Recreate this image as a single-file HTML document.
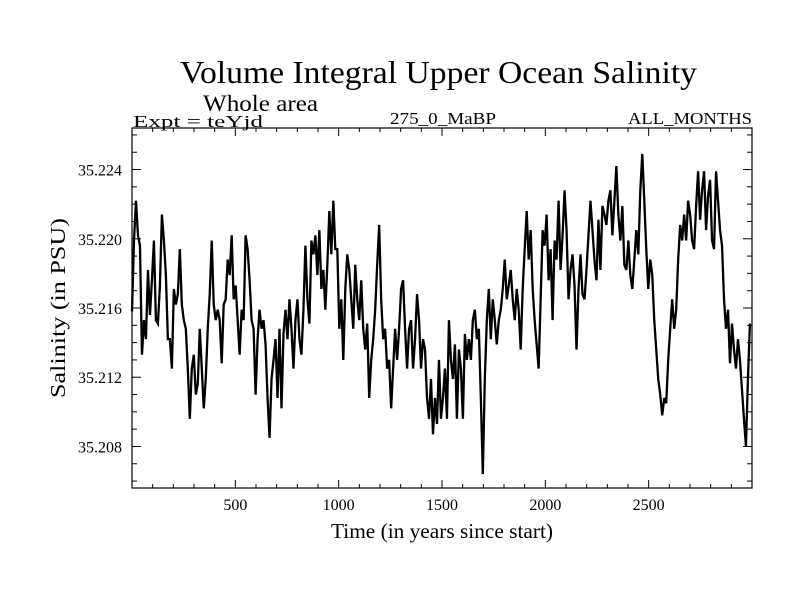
<!DOCTYPE html>
<html><head><meta charset="utf-8"><style>
html,body{margin:0;padding:0;background:#fff;}
svg text{font-family:"Liberation Serif",serif;fill:#000;}
</style></head><body>
<svg id="chart" width="800" height="600" viewBox="0 0 800 600" xmlns="http://www.w3.org/2000/svg">
<rect x="0" y="0" width="800" height="600" fill="#fff"/>
<text x="180" y="83" font-size="32" textLength="517" lengthAdjust="spacingAndGlyphs">Volume Integral Upper Ocean Salinity</text>
<text x="203" y="111" font-size="23" textLength="115" lengthAdjust="spacingAndGlyphs">Whole area</text>
<text x="133" y="127" font-size="17" textLength="130" lengthAdjust="spacingAndGlyphs">Expt = teYjd</text>
<text x="390" y="124" font-size="17" textLength="106" lengthAdjust="spacingAndGlyphs">275_0_MaBP</text>
<text x="628" y="124" font-size="17" textLength="124" lengthAdjust="spacingAndGlyphs">ALL_MONTHS</text>
<text transform="translate(65,308) rotate(-90)" font-size="21" text-anchor="middle" textLength="180" lengthAdjust="spacingAndGlyphs">Salinity (in PSU)</text>
<text x="331" y="538" font-size="21" textLength="222" lengthAdjust="spacingAndGlyphs">Time (in years since start)</text>
<g id="ticks"></g>
<g id="series"></g>
<rect x="132" y="128" width="620" height="360" fill="none" stroke="#000" stroke-width="1.2"/>
</svg>
<script>
const startYear = 0;
const endYear = 2990;
const xTicks = [500, 1000, 1500, 2000, 2500];
const yTicks = [35.208, 35.212, 35.216, 35.220, 35.224];
const salinity = [
35.2158,35.2199,35.2222,35.2202,35.2196,35.2133,35.2153,35.2142,35.2182,35.2156,35.2176,35.2199,35.2153,35.2151,35.2173,35.2214,35.2199,35.2179,35.2142,35.2142,35.2125,35.2171,35.2162,35.2168,35.2194,35.2162,35.2153,35.2148,35.2125,35.2096,35.2125,35.2133,35.2110,35.2116,35.2148,35.2125,35.2102,35.2119,35.2148,35.2168,35.2199,35.2162,35.2153,35.2159,35.2153,35.2128,35.2162,35.2165,35.2188,35.2179,35.2202,35.2165,35.2173,35.2153,35.2133,35.2159,35.2153,35.2202,35.2194,35.2176,35.2153,35.2148,35.2110,35.2142,35.2159,35.2148,35.2153,35.2139,35.2108,35.2085,35.2119,35.2130,35.2142,35.2108,35.2148,35.2102,35.2145,35.2159,35.2142,
35.2165,35.2148,35.2125,35.2153,35.2165,35.2142,35.2133,35.2159,35.2196,35.2165,35.2151,35.2199,35.2191,35.2202,35.2179,35.2205,35.2171,35.2182,35.2159,35.2185,35.2216,35.2191,35.2222,35.2194,35.2194,35.2148,35.2165,35.2130,35.2171,35.2191,35.2182,35.2165,35.2148,35.2185,35.2165,35.2153,35.2176,35.2148,35.2136,35.2151,35.2108,35.2130,35.2142,35.2159,35.2185,35.2208,35.2165,35.2142,35.2148,35.2125,35.2130,35.2102,35.2125,35.2148,35.2130,35.2148,35.2171,35.2176,35.2148,35.2125,35.2148,35.2153,35.2125,35.2142,35.2168,35.2153,35.2125,35.2142,35.2136,35.2108,35.2096,35.2119,35.2087,35.2108,35.2093,35.2130,35.2096,
35.2108,35.2125,35.2096,35.2153,35.2130,35.2119,35.2139,35.2096,35.2136,35.2125,35.2096,35.2145,35.2130,35.2142,35.2130,35.2153,35.2159,35.2142,35.2148,35.2108,35.2064,35.2119,35.2153,35.2171,35.2142,35.2165,35.2153,35.2139,35.2153,35.2159,35.2171,35.2188,35.2165,35.2173,35.2182,35.2165,35.2153,35.2171,35.2159,35.2136,35.2171,35.2194,35.2216,35.2188,35.2205,35.2171,35.2153,35.2139,35.2125,35.2165,35.2205,35.2196,35.2214,35.2176,35.2194,35.2153,35.2199,35.2188,35.2222,35.2182,35.2202,35.2228,35.2205,35.2165,35.2182,35.2191,35.2173,35.2136,35.2171,35.2191,35.2168,35.2165,35.2182,35.2202,35.2222,35.2205,35.2188,35.2176,
35.2211,35.2182,35.2219,35.2214,35.2208,35.2222,35.2228,35.2202,35.2222,35.2242,35.2214,35.2199,35.2219,35.2185,35.2182,35.2199,35.2179,35.2171,35.2188,35.2205,35.2191,35.2228,35.2249,35.2222,35.2194,35.2171,35.2188,35.2179,35.2153,35.2136,35.2119,35.2110,35.2098,35.2108,35.2105,35.2130,35.2148,35.2165,35.2148,35.2159,35.2188,35.2208,35.2199,35.2214,35.2199,35.2222,35.2214,35.2199,35.2194,35.2219,35.2239,35.2211,35.2228,35.2239,35.2205,35.2225,35.2234,35.2199,35.2194,35.2239,35.2222,35.2205,35.2196,35.2165,35.2148,35.2159,35.2128,35.2151,35.2136,35.2125,35.2142,35.2130,35.2113,35.2096,35.2080,35.2119,35.2151
];
const NS = "http://www.w3.org/2000/svg";
const L = 132, R = 752, T = 128, B = 488;
const xMin = 0, xMax = 3000, yMin = 35.2056, yMax = 35.2264;
function xs(v){ return L + (v - xMin) / (xMax - xMin) * (R - L); }
function ys(v){ return B - (v - yMin) / (yMax - yMin) * (B - T); }
const tg = document.getElementById('ticks');
function line(x1,y1,x2,y2,name){
  const l = document.createElementNS(NS,'line');
  l.setAttribute('x1',x1); l.setAttribute('y1',y1); l.setAttribute('x2',x2); l.setAttribute('y2',y2);
  l.setAttribute('stroke','#000'); l.setAttribute('stroke-width','1');
  
  
  tg.appendChild(l);
}
for (let yr = 100; yr < xMax; yr += 100) {
  const major = yr % 500 === 0;
  const len = major ? 8 : 4;
  const x = xs(yr);
  line(x, B, x, B - len, 'x-tick');
  line(x, T, x, T + len, 'x-tick-top');
}
for (let k = Math.ceil(yMin * 1000); k <= Math.floor(yMax * 1000); k++) {
  const v = k / 1000;
  const major = k % 4 === 0;
  const len = major ? 9 : 5;
  const y = ys(v);
  line(L, y, L + len, y, 'y-tick');
  line(R, y, R - len, y, 'y-tick-right');
}
xTicks.forEach(t => {
  const tx = document.createElementNS(NS,'text');
  tx.setAttribute('x', xs(t)); tx.setAttribute('y', 510);
  tx.setAttribute('font-size','16'); tx.setAttribute('text-anchor','middle');
  tx.textContent = t;
  
  
  tg.appendChild(tx);
});
yTicks.forEach(t => {
  const tx = document.createElementNS(NS,'text');
  tx.setAttribute('x', 122); tx.setAttribute('y', ys(t) + 6);
  tx.setAttribute('font-size','16'); tx.setAttribute('text-anchor','end');
  tx.textContent = t.toFixed(3);
  
  
  tg.appendChild(tx);
});
const n = salinity.length;
const pts = salinity.map((v,i) => {
  const yr = startYear + i * (endYear - startYear) / (n - 1);
  return xs(yr).toFixed(2) + ',' + ys(v).toFixed(2);
}).join(' ');
const pl = document.createElementNS(NS,'polyline');
pl.setAttribute('points', pts);
pl.setAttribute('fill','none'); pl.setAttribute('stroke','#000');
pl.setAttribute('stroke-width','2.3'); pl.setAttribute('stroke-linejoin','miter');


document.getElementById('series').appendChild(pl);
</script>
</body></html>
